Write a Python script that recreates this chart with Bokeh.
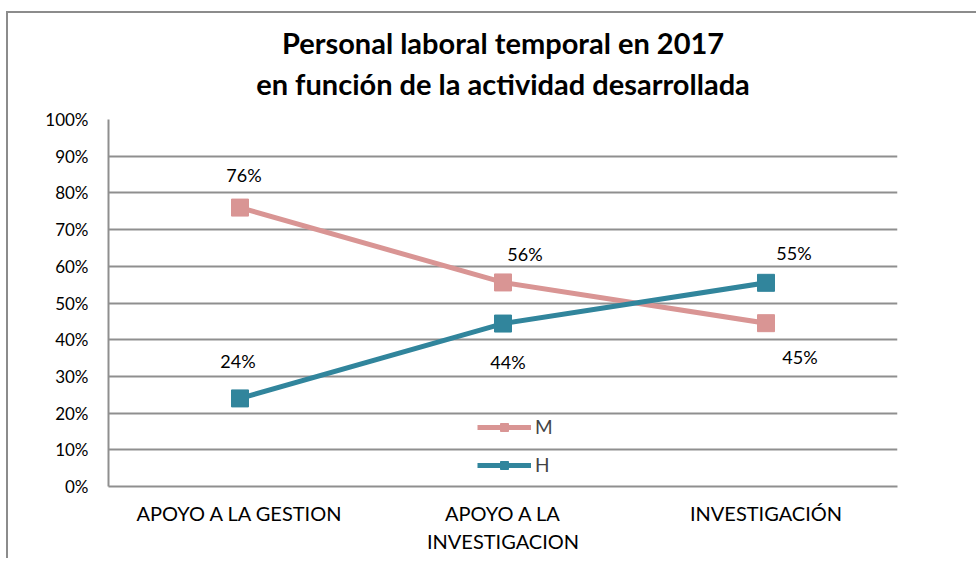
from bokeh.plotting import figure
from bokeh.models import ColumnDataSource, FixedTicker, NumeralTickFormatter, Legend, Title
from bokeh.core.properties import value
from bokeh.embed import file_html
from bokeh.resources import INLINE

# ---- data ----
categories = ["APOYO A LA GESTION", "APOYO A LA\nINVESTIGACION", "INVESTIGACIÓN"]
m_values = [0.76, 0.556, 0.445]
h_values = [0.24, 0.444, 0.555]
m_labels = ["76%", "56%", "45%"]
h_labels = ["24%", "44%", "55%"]
y_ticks = [0.0, 0.1, 0.2, 0.3, 0.4, 0.5, 0.6, 0.7, 0.8, 0.9, 1.0]
title_lines = ["Personal laboral temporal en 2017", "en función de la actividad desarrollada"]

# ---- styling / layout ----
FONT = "Lato"
M_COLOR = "#D99594"
H_COLOR = "#31859C"
GRID = "#8f8f8f"
m_dx = [4, 22, 34]
m_dy = [-33, -28, 34]
h_dx = [-2, 5, 28]
h_dy = [-37, 38, -30]

p = figure(
    x_range=categories, y_range=(0, 1),
    width=970, height=547,
    output_backend="svg", toolbar_location=None,
    min_border_left=100, min_border_right=81,
    min_border_top=106, min_border_bottom=74,
)
p.outline_line_color = None
p.background_fill_color = "white"
p.border_fill_color = "white"

p.title.text = title_lines[0]
p.title.align = "center"
p.title.text_font = FONT
p.title.text_font_size = "29px"
p.title.text_font_style = "bold"
p.title.text_color = "#000000"
p.title.standoff = 0
# spacer closest to the frame, then line 2, then p.title (line 1) outermost
spacer = Title(text=" ", text_font_size="11px", standoff=0)
p.add_layout(spacer, "above")
t2 = Title(text=title_lines[1], align="center", text_font=FONT, text_font_size="29px",
           text_font_style="bold", text_color="#000000", standoff=9)
p.add_layout(t2, "above")

p.yaxis.ticker = FixedTicker(ticks=y_ticks)
p.yaxis.formatter = NumeralTickFormatter(format="0%")
p.yaxis.major_tick_line_color = None
p.yaxis.minor_tick_line_color = None
p.yaxis.axis_line_color = GRID
p.yaxis.axis_line_width = 2
p.yaxis.major_label_text_font = FONT
p.yaxis.major_label_text_font_size = "17px"
p.yaxis.major_label_text_color = "#000000"
p.yaxis.major_label_standoff = 14

p.xaxis.major_tick_line_color = None
p.xaxis.axis_line_color = GRID
p.xaxis.axis_line_width = 2
p.xaxis.major_label_text_font = FONT
p.xaxis.major_label_text_font_size = "20px"
p.xaxis.major_label_text_color = "#000000"
p.xaxis.major_label_standoff = 8

p.xgrid.grid_line_color = None
p.ygrid.grid_line_color = GRID
p.ygrid.grid_line_width = 2

src_m = ColumnDataSource(dict(x=categories, y=m_values, t=m_labels, dx=m_dx, dy=m_dy))
src_h = ColumnDataSource(dict(x=categories, y=h_values, t=h_labels, dx=h_dx, dy=h_dy))

lm = p.line("x", "y", source=src_m, line_color=M_COLOR, line_width=5)
sm = p.scatter("x", "y", source=src_m, marker="square", size=17, fill_color=M_COLOR, line_color=M_COLOR)
lh = p.line("x", "y", source=src_h, line_color=H_COLOR, line_width=5)
sh = p.scatter("x", "y", source=src_h, marker="square", size=17, fill_color=H_COLOR, line_color=H_COLOR)

for src in (src_m, src_h):
    p.text("x", "y", text="t", source=src, x_offset="dx", y_offset="dy",
           text_font=value(FONT), text_font_size="18px", text_color="#000000",
           text_align="center", text_baseline="middle")

legend = Legend(items=[("M", [lm, sm]), ("H", [lh, sh])],
                location=(369, 10), orientation="vertical",
                glyph_width=54, glyph_height=20, label_height=20,
                spacing=15, padding=0, margin=0,
                label_text_font=FONT, label_text_font_size="19px",
                label_standoff=4,
                border_line_color=None, background_fill_alpha=0)
p.add_layout(legend, "center")

p.styles = {"margin-left": "6px", "margin-top": "11px",
            "border-left": "2px solid #8c8c8c", "border-top": "2px solid #8c8c8c"}

open("out.html", "w").write(file_html(p, INLINE))
